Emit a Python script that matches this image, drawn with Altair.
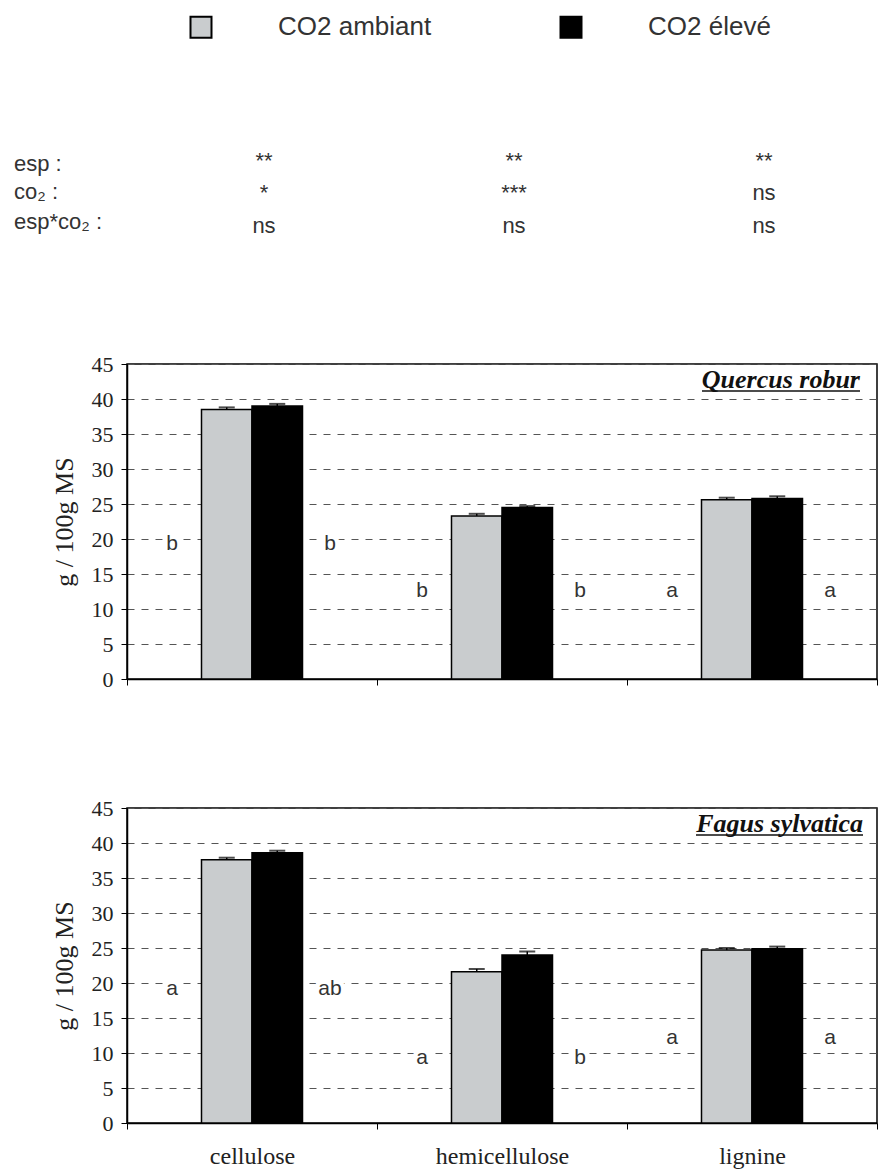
import altair as alt
import pandas as pd

# ---------------- data ----------------
categories = ["cellulose", "hemicellulose", "lignine"]
treatments = ["CO2 ambiant", "CO2 élevé"]

quercus_ambiant = [38.5, 23.3, 25.6]
quercus_eleve = [39.0, 24.5, 25.8]
quercus_err_ambiant = [0.3, 0.3, 0.3]
quercus_err_eleve = [0.3, 0.2, 0.3]

fagus_ambiant = [37.6, 21.6, 24.7]
fagus_eleve = [38.6, 24.0, 24.9]
fagus_err_ambiant = [0.3, 0.4, 0.3]
fagus_err_eleve = [0.3, 0.5, 0.3]

quercus_letters_left = ["b", "b", "a"]
quercus_letters_right = ["b", "b", "a"]
quercus_letter_level = [19.3, 12.6, 12.6]

fagus_letters_left = ["a", "a", "a"]
fagus_letters_right = ["ab", "b", "a"]
fagus_letter_level = [19.1, 9.3, 12.2]

stat_row_labels = ["esp :", "co\u2082 :", "esp*co\u2082 :"]
stat_esp = ["**", "**", "**"]
stat_co2 = ["*", "***", "ns"]
stat_inter = ["ns", "ns", "ns"]

species = ["Quercus robur", "Fagus sylvatica"]
y_ticks = [0, 5, 10, 15, 20, 25, 30, 35, 40, 45]

W, H = 750, 315
Y_TITLE = "g / 100g MS"


def bar_df(amb, ele, ea, ee):
    rows = []
    for i, c in enumerate(categories):
        rows.append({"category": c, "treatment": treatments[0], "value": amb[i], "top": amb[i] + ea[i]})
        rows.append({"category": c, "treatment": treatments[1], "value": ele[i], "top": ele[i] + ee[i]})
    return pd.DataFrame(rows)


xscale = alt.Scale(domain=categories, paddingInner=0, paddingOuter=0)
# empty slots on each side of the pair keep the two bars in the middle of each category
offscale = alt.Scale(domain=["_l"] + treatments + ["_r"], paddingInner=0, paddingOuter=0.475)
yscale = alt.Scale(domain=[0, 45], nice=False, zero=True)


def xenc(show_labels):
    return alt.X(
        "category:N",
        scale=xscale,
        sort=categories,
        title=None,
        axis=alt.Axis(labels=show_labels, tickBand="extent", labelAngle=0, labelPadding=15,
                      grid=False, labelFontSize=24),
    )


def yenc(field):
    return alt.Y(
        field,
        scale=yscale,
        title=Y_TITLE,
        axis=alt.Axis(values=y_ticks, grid=True, labelPadding=8, titlePadding=14),
    )


def panel(amb, ele, ea, ee, left, right, level, name, show_labels, legend, title_right, with_header):
    df = bar_df(amb, ele, ea, ee)
    xoff = alt.XOffset("treatment:N", scale=offscale)
    color = alt.Color("treatment:N", scale=alt.Scale(domain=treatments, range=["#c9ccce", "#000000"]),
                      legend=legend, sort=treatments)

    bars = alt.Chart(df).mark_bar(stroke="black", strokeWidth=1.5).encode(
        x=xenc(show_labels), xOffset=xoff, y=yenc("value:Q"), color=color
    )
    err_rule = alt.Chart(df).mark_rule(color="black", strokeWidth=1.5).encode(
        x=xenc(show_labels), xOffset=xoff, y=yenc("value:Q"), y2="top:Q"
    )
    err_cap = alt.Chart(df).mark_tick(color="black", size=16, thickness=2).encode(
        x=xenc(show_labels), xOffset=xoff, y=yenc("top:Q")
    )

    ldf = pd.DataFrame({"category": categories, "left": left, "right": right, "level": level})
    txt_style = dict(font="Liberation Sans", fontSize=21, baseline="middle", align="center")
    layers = [bars, err_rule, err_cap]
    for fld, dx in (("left", -80), ("right", 78)):
        halo = alt.Chart(ldf).mark_text(color="white", stroke="white", strokeWidth=9, dx=dx, **txt_style).encode(
            x=xenc(show_labels), y=yenc("level:Q"), text=f"{fld}:N"
        )
        lab = alt.Chart(ldf).mark_text(color="#333333", dx=dx, **txt_style).encode(
            x=xenc(show_labels), y=yenc("level:Q"), text=f"{fld}:N"
        )
        layers += [halo, lab]

    sdf = pd.DataFrame({"name": [name]})
    title = alt.Chart(sdf).mark_text(
        align="right", baseline="alphabetic", font="Liberation Serif", fontSize=26,
        fontStyle="italic", fontWeight="bold", color="#111111"
    ).encode(x=alt.value(title_right), y=alt.value(24), text="name:N")
    underline = alt.Chart(sdf).mark_rule(color="#111111", strokeWidth=1.5).encode(
        x=alt.value(title_right - (158 if name.startswith("Q") else 167)),
        x2=alt.value(title_right), y=alt.value(27)
    )
    layers += [title, underline]

    if with_header:
        row_y = [-200, -172, -142]
        val_y = [-203, -171, -138]
        for i, lbl in enumerate(stat_row_labels):
            layers.append(
                alt.Chart(pd.DataFrame({"t": [lbl]})).mark_text(
                    align="left", baseline="middle", font="Liberation Sans", fontSize=22, color="#333333"
                ).encode(x=alt.value(-113), y=alt.value(row_y[i]), text="t:N")
            )
        for i, vals in enumerate((stat_esp, stat_co2, stat_inter)):
            vdf = pd.DataFrame({"category": categories, "s": vals})
            layers.append(
                alt.Chart(vdf).mark_text(
                    align="center", baseline="middle", font="Liberation Sans", fontSize=22,
                    color="#333333", dx=12
                ).encode(x=xenc(show_labels), y=alt.value(val_y[i]), text="s:N")
            )

    return alt.layer(*layers).properties(width=W, height=H)


legend = alt.Legend(
    orient="none", legendX=61, legendY=-350, direction="horizontal", title=None,
    symbolType="square", symbolSize=441, symbolStrokeColor="black", symbolStrokeWidth=2,
    symbolOpacity=1, labelFont="Liberation Sans", labelFontSize=26, labelColor="#333333",
    labelOffset=64, columnPadding=124, padding=0, labelLimit=300,
)

top = panel(quercus_ambiant, quercus_eleve, quercus_err_ambiant, quercus_err_eleve,
            quercus_letters_left, quercus_letters_right, quercus_letter_level,
            species[0], False, legend, 733, True)
bottom = panel(fagus_ambiant, fagus_eleve, fagus_err_ambiant, fagus_err_eleve,
               fagus_letters_left, fagus_letters_right, fagus_letter_level,
               species[1], True, None, 736, False)

chart = (
    alt.vconcat(top, bottom, spacing=105)
    .resolve_legend(color="independent")
    .properties(padding={"left": 5, "top": 5, "right": 0, "bottom": 0}, background="white")
    .configure_view(stroke="black", strokeWidth=1.5)
    .configure_axis(
        labelFont="Liberation Serif", labelFontSize=22, labelColor="#222222",
        titleFont="Liberation Serif", titleFontSize=26, titleFontWeight="normal", titleColor="#222222",
        domainColor="black", domainWidth=1.5, tickColor="black", tickSize=6, tickWidth=1,
        gridColor="#555555", gridDash=[7, 7], gridWidth=1,
    )
)

chart.save("out.html", embed_options={"renderer": "svg", "actions": False})
